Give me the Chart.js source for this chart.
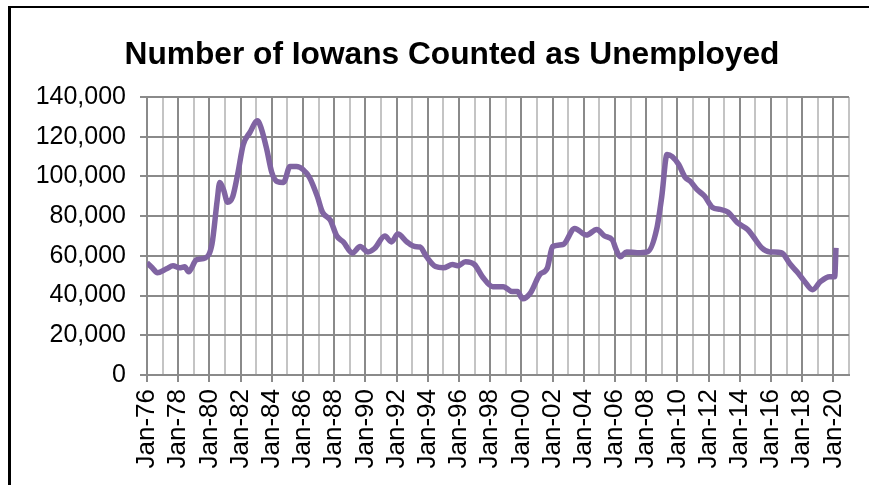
<!DOCTYPE html>
<html lang="en">
<head>
  <meta charset="utf-8">
  <title>Number of Iowans Counted as Unemployed</title>
  <script src="https://cdn.jsdelivr.net/npm/chart.js@4.4.1/dist/chart.umd.min.js"></script>
  <style>
    html, body { margin: 0; background: #fff; overflow: hidden; width: 869px; height: 485px; }
    #frame {
      position: absolute; left: 8px; top: 6px; width: 900px; height: 520px;
      border-left: 3px solid #000; border-top: 2px solid #000;
    }
    #wrap { position: absolute; left: 0; top: 0; width: 904px; height: 485px; }
  </style>
</head>
<body>
  <div id="frame"></div>
  <div id="wrap"><canvas id="myChart" width="904" height="485"></canvas></div>

  <script>
    // months counted from Jan-76 (0 = Jan-76)
    var months = [0, 4, 8, 15, 20, 25, 29, 32, 38, 45, 50, 54, 56, 59, 62, 66, 70, 74, 79, 85,
      88, 92, 96, 100, 105, 110, 115, 120, 125, 131, 135, 141, 146, 151, 158, 164, 170, 175, 183, 188,
      193, 200, 206, 210, 215, 222, 228, 235, 239, 245, 252, 258, 266, 274, 281, 285, 289, 295, 302, 308,
      312, 320, 329, 338, 346, 352, 358, 361, 364, 369, 377, 385, 392, 396, 400, 404, 409, 414, 418, 423,
      429, 435, 441, 447, 454, 462, 466, 473, 479, 488, 495, 500, 506, 512, 518, 525, 529, 530];

    var unemployed = [56500, 54000, 51500, 53500, 55000, 54000, 54500, 52000, 58000, 59000,
      66000, 88000, 97000, 93000, 87000, 90000, 102000, 116000, 122000, 128000,
      124000, 114000, 102000, 97500, 97000, 105000, 105000, 103500, 99500, 90000,
      82000, 78000, 70000, 67000, 61500, 64700, 62000, 63700, 70000, 67000,
      71000, 67000, 64700, 64500, 59600, 54600, 54000, 55600, 55000, 57000,
      55600, 49500, 44500, 44500, 42000, 42000, 38400, 41400, 50500, 54000,
      64700, 65700, 73800, 70500, 73300, 70000, 68000, 63000, 59600, 62000,
      61600, 62000, 73300, 90000, 111000, 110000, 106000, 99500, 97500, 93500,
      90000, 84400, 83400, 82000, 76800, 73300, 70000, 64000, 62000, 61600,
      55600, 52000, 47000, 43000, 47000, 49500, 49500, 64000];

    var tickLabels = ['Jan-76', 'Jan-78', 'Jan-80', 'Jan-82', 'Jan-84', 'Jan-86', 'Jan-88', 'Jan-90',
      'Jan-92', 'Jan-94', 'Jan-96', 'Jan-98', 'Jan-00', 'Jan-02', 'Jan-04', 'Jan-06', 'Jan-08',
      'Jan-10', 'Jan-12', 'Jan-14', 'Jan-16', 'Jan-18', 'Jan-20'];

    var points = [];
    for (var i = 0; i < months.length; i++) {
      points.push({ x: months[i], y: unemployed[i] });
    }

    var ctx = document.getElementById('myChart');
    var myChart = new Chart(ctx, {
      type: 'line',
      data: {
        datasets: [{
          label: 'Unemployed',
          data: points,
          borderColor: '#8064A2',
          backgroundColor: '#8064A2',
          borderWidth: 5.5,
          pointRadius: 0,
          cubicInterpolationMode: 'monotone'
        }]
      },
      options: {
        responsive: false,
        animation: false,
        // canvas is wider than the window so the title can sit centred at x=452
        layout: { padding: { left: 20, right: 20, top: 0, bottom: 0 } },
        plugins: {
          legend: { display: false },
          tooltip: { enabled: false },
          title: {
            display: true,
            text: 'Number of Iowans Counted as Unemployed',
            color: '#000',
            font: { family: 'Liberation Sans', size: 31.7, weight: 'bold' },
            padding: { top: 36, bottom: 23 }
          }
        },
        scales: {
          x: {
            type: 'linear',
            min: 0,
            max: 540,
            afterFit: function (scale) { scale.height = 110; },
            grid: {
              color: function (c) { return c.tick && c.tick.value % 24 === 0 ? '#8a8a8a' : '#c4c4c4'; },
              tickColor: function (c) { return c.tick && c.tick.value % 24 === 0 ? '#8a8a8a' : 'rgba(0,0,0,0)'; },
              lineWidth: 2,
              tickLength: 7
            },
            border: { color: '#8a8a8a', width: 2 },
            ticks: {
              stepSize: 12,
              maxTicksLimit: 100,
              autoSkip: false,
              minRotation: 90,
              maxRotation: 90,
              padding: 7,
              color: '#000',
              font: { family: 'Liberation Sans', size: 26 },
              callback: function (v) {
                return v % 24 === 0 ? (tickLabels[v / 24] || '') : '';
              }
            }
          },
          y: {
            min: 0,
            max: 140000,
            afterFit: function (scale) { scale.width = 127; },
            grid: { color: '#8a8a8a', lineWidth: 2, tickLength: 7 },
            border: { color: '#8a8a8a', width: 2 },
            ticks: {
              stepSize: 20000,
              padding: 14,
              color: '#000',
              font: { family: 'Liberation Sans', size: 25 },
              callback: function (v) { return v.toLocaleString('en-US'); }
            }
          },
          spacer: {
            position: 'right',
            display: true,
            afterFit: function (scale) { scale.width = 35; },
            grid: { display: false, drawOnChartArea: false },
            border: { display: false },
            ticks: { display: false }
          }
        }
      }
    });
  </script>
</body>
</html>
